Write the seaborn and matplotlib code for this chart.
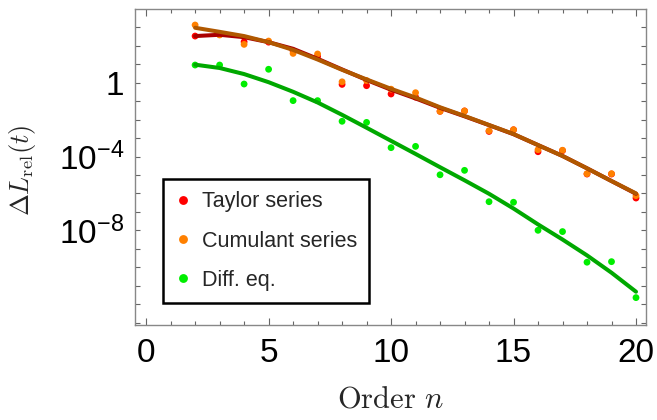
import matplotlib
matplotlib.use("Agg")
import matplotlib.pyplot as plt
import matplotlib.ticker as mticker
import numpy as np
import pandas as pd
import seaborn as sns

# order n and the values, kept as log10 of Delta L_rel
order = list(range(2, 21))
taylor_log10 = [2.53, 2.62, 2.22, 2.20, 1.73, 1.43, -0.09, -0.16, -0.61, -0.78,
                -1.55, -1.53, -2.64, -2.55, -3.74, -3.68, -4.95, -4.95, -6.25]
cumulant_log10 = [3.13, 2.59, 2.08, 2.26, 1.59, 1.56, 0.05, 0.12, -0.35, -0.54,
                  -1.55, -1.53, -2.60, -2.55, -3.63, -3.66, -4.93, -4.93, -6.12]
diffeq_log10 = [0.96, 0.96, -0.07, 0.73, -0.97, -0.97, -2.09, -2.15, -3.52, -3.45,
                -4.99, -4.75, -6.45, -6.48, -8.00, -8.07, -9.73, -9.70, -11.65]

# fitted curves at each order
taylor_fit_log10 = [2.53, 2.60, 2.47, 2.20, 1.84, 1.30, 0.72, 0.15, -0.38, -0.85,
                    -1.36, -1.82, -2.30, -2.79, -3.38, -3.97, -4.64, -5.33, -6.02]
cumulant_fit_log10 = [2.98, 2.76, 2.53, 2.20, 1.78, 1.26, 0.70, 0.18, -0.33, -0.80,
                      -1.33, -1.80, -2.29, -2.78, -3.38, -3.97, -4.64, -5.33, -6.00]
diffeq_fit_log10 = [0.98, 0.80, 0.47, 0.03, -0.49, -1.07, -1.74, -2.44, -3.15, -3.86,
                    -4.58, -5.29, -6.02, -6.82, -7.68, -8.50, -9.36, -10.30, -11.33]

labels = ["Taylor series", "Cumulant series", "Diff. eq."]
point_colors = ["#ff0000", "#ff8000", "#00ee00"]
line_colors = ["#aa0000", "#b05800", "#00a800"]

pts = pd.DataFrame({
    "n": order * 3,
    "val": 10.0 ** np.array(taylor_log10 + cumulant_log10 + diffeq_log10),
    "method": [labels[0]] * 19 + [labels[1]] * 19 + [labels[2]] * 19,
})
fits = pd.DataFrame({
    "n": order * 3,
    "val": 10.0 ** np.array(taylor_fit_log10 + cumulant_fit_log10 + diffeq_fit_log10),
    "method": [labels[0]] * 19 + [labels[1]] * 19 + [labels[2]] * 19,
})

sns.set_style("ticks")
plt.rcParams["font.family"] = ["Liberation Sans", "DejaVu Sans"]
plt.rcParams["mathtext.fontset"] = "cm"

fig = plt.figure(figsize=(6.57, 4.20), dpi=100)
ax = fig.add_axes([0.206, 0.2255, 0.7777, 0.7523])

sns.scatterplot(data=pts, x="n", y="val", hue="method", palette=point_colors,
                s=24, linewidth=0, ax=ax, zorder=2)
sns.lineplot(data=fits, x="n", y="val", hue="method", palette=line_colors,
             linewidth=2.9, ax=ax, legend=False, zorder=3)

ax.set_yscale("log")
ax.set_xlim(-0.44, 20.42)
ax.set_ylim(10 ** -13.15, 10 ** 3.98)

ax.xaxis.set_major_locator(mticker.MultipleLocator(5))
ax.xaxis.set_minor_locator(mticker.MultipleLocator(1))
ax.yaxis.set_major_locator(mticker.FixedLocator([10.0 ** k for k in range(-13, 4)]))
ax.yaxis.set_minor_locator(mticker.NullLocator())


def ylab(v, pos):
    k = int(round(np.log10(v)))
    if k == 0:
        return "1"
    if k in (-4, -8):
        return r"$\mathregular{10^{%d}}$" % k
    return ""


ax.yaxis.set_major_formatter(mticker.FuncFormatter(ylab))

for s in ax.spines.values():
    s.set_color("#888888")
    s.set_linewidth(1.0)
ax.tick_params(which="both", direction="in", top=True, right=True,
               color="#666666", width=0.8, labelsize=24, labelcolor="black")
ax.tick_params(axis="x", which="major", length=5, pad=9)
ax.tick_params(axis="x", which="minor", length=3)
ax.tick_params(axis="y", which="major", length=3.5, pad=8)

ax.set_xlabel(r"$\mathrm{Order}\ n$", fontsize=22, labelpad=11)
ax.set_ylabel(r"$\Delta L_{\mathrm{rel}}(t)$", fontsize=19)
ax.yaxis.set_label_coords(-0.19, 0.49)

leg = ax.legend(loc="lower left", bbox_to_anchor=(0.055, 0.0715), borderaxespad=0,
                frameon=True, fancybox=False, edgecolor="black", framealpha=1,
                fontsize=15.5, handletextpad=0.5, labelspacing=0.85, borderpad=0.55,
                markerscale=1.3, handlelength=0.76)
leg.get_frame().set_linewidth(1.8)

fig.savefig("out.png", dpi=100)
